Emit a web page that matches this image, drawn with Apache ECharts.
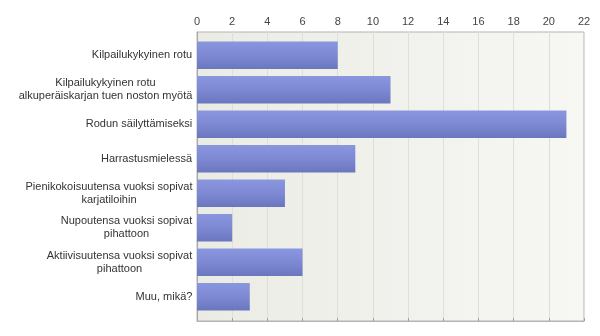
<!DOCTYPE html>
<html>
<head>
<meta charset="utf-8">
<script src="https://cdn.jsdelivr.net/npm/echarts@6/dist/echarts.min.js"></script>
<style>
  html, body { margin: 0; padding: 0; background: #ffffff; }
  #chart { width: 600px; height: 336px; }
</style>
</head>
<body>
<div id="chart"></div>
<script>
// Answer options and response counts
const categories = [
  'Kilpailukykyinen rotu',
  'Kilpailukykyinen rotu\nalkuperäiskarjan tuen noston myötä',
  'Rodun säilyttämiseksi',
  'Harrastusmielessä',
  'Pienikokoisuutensa vuoksi sopivat\nkarjatiloihin',
  'Nupoutensa vuoksi sopivat\npihattoon',
  'Aktiivisuutensa vuoksi sopivat\npihattoon',
  'Muu, mikä?'
];
const values = [8, 11, 21, 9, 5, 2, 6, 3];
const axisMin = 0;
const axisMax = 22;
const axisStep = 2;

const FONT = '"Liberation Sans", Arial, sans-serif';
const FONT_SIZE = 11;
const TEXT_COLOR = '#333333';

// Multi-line labels are centred line by line, with the block right-aligned to the axis
const ctx = document.createElement('canvas').getContext('2d');
ctx.font = FONT_SIZE + 'px ' + FONT;
const rich = {};
categories.forEach(function (c, i) {
  const w = Math.max.apply(null, c.split('\n').map(function (l) { return ctx.measureText(l).width; }));
  rich['c' + i] = {
    width: Math.ceil(w) + 1,
    align: 'center',
    fontSize: FONT_SIZE,
    lineHeight: 13,
    fontFamily: FONT,
    color: TEXT_COLOR
  };
});

const chart = echarts.init(document.getElementById('chart'), null, { renderer: 'canvas' });

const plotLeft = 197, plotWidth = 387;

chart.setOption({
  animation: false,
  backgroundColor: '#ffffff',
  grid: [
    // bars
    { left: plotLeft, width: plotWidth, top: 38, height: 276, containLabel: false },
    // plot frame, background and gridlines
    {
      left: plotLeft, width: plotWidth, top: 32, height: 289, z: 0,
      show: true,
      borderColor: '#b4b4b4', borderWidth: 1,
      backgroundColor: new echarts.graphic.LinearGradient(0, 0, 1, 0, [
        { offset: 0, color: '#eaece4' },
        { offset: 1, color: '#f7f7f4' }
      ])
    }
  ],
  xAxis: [
    {
      gridIndex: 0, type: 'value', min: axisMin, max: axisMax, interval: axisStep,
      show: false
    },
    {
      gridIndex: 1, type: 'value', position: 'top', min: axisMin, max: axisMax, interval: axisStep,
      axisLine: { show: true, lineStyle: { color: '#b4b4b4', width: 1 } },
      axisTick: { show: true, length: 3, lineStyle: { color: '#a0a0a0' } },
      axisLabel: { margin: 5, fontSize: FONT_SIZE, fontFamily: FONT, color: '#444444' },
      splitLine: { show: true, lineStyle: { color: '#dddfd8', width: 1 } }
    }
  ],
  yAxis: [
    {
      gridIndex: 0, type: 'category', data: categories, inverse: true,
      axisLine: { show: false },
      axisTick: { show: false },
      axisLabel: {
        margin: 4,
        align: 'right',
        formatter: function (value, index) {
          return value.split('\n').map(function (l) { return '{c' + index + '|' + l + '}'; }).join('\n');
        },
        rich: rich
      }
    },
    {
      gridIndex: 1, type: 'value', min: 0, max: 1, show: true,
      axisLine: { show: true, lineStyle: { color: '#a8a8a8', width: 1 } },
      axisTick: { show: false }, axisLabel: { show: false }, splitLine: { show: false }
    }
  ],
  series: [
    {
      type: 'bar',
      xAxisIndex: 0, yAxisIndex: 0,
      data: values,
      barCategoryGap: '20%',
      z: 3,
      itemStyle: {
        color: new echarts.graphic.LinearGradient(0, 0, 0, 1, [
          { offset: 0, color: '#8a96de' },
          { offset: 0.5, color: '#7d89d3' },
          { offset: 1, color: '#6a76bd' }
        ])
      }
    }
  ]
});
</script>
</body>
</html>
